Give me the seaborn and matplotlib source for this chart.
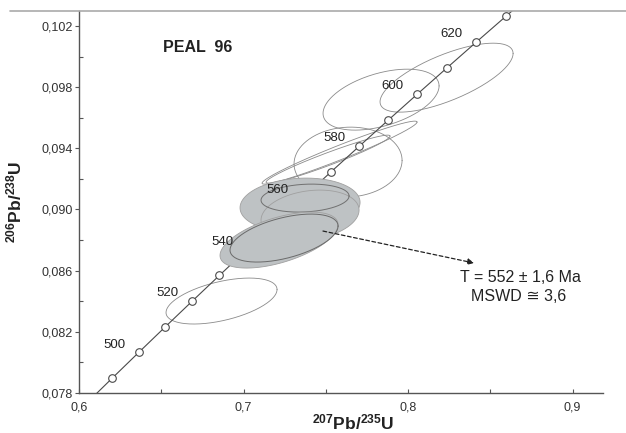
import numpy as np
import seaborn as sns
import matplotlib.pyplot as plt
from matplotlib.lines import Line2D
from matplotlib.ticker import FixedLocator

sns.set_style("ticks")
plt.rcParams['font.family'] = ['Liberation Sans', 'DejaVu Sans']
plt.rcParams['mathtext.fontset'] = 'custom'
plt.rcParams['mathtext.rm'] = 'Liberation Sans'
plt.rcParams['mathtext.bf'] = 'Liberation Sans:bold'

# Concordia (age in Ma, 207Pb/235U, 206Pb/238U)
conc_age = [480, 490, 500, 510, 520, 530, 540, 550, 560, 570, 580, 590, 600, 610, 620, 630, 640]
conc_x = [0.60437, 0.62024, 0.63628, 0.65247, 0.66883, 0.68535, 0.70203, 0.71887, 0.73588,
          0.75306, 0.77042, 0.78794, 0.80563, 0.82350, 0.84155, 0.85978, 0.87819]
conc_y = [0.077304, 0.078976, 0.080650, 0.082328, 0.084008, 0.085691, 0.087376, 0.089064, 0.090755,
          0.092448, 0.094144, 0.095842, 0.097544, 0.099248, 0.100955, 0.102664, 0.104376]
label_ages = [500, 520, 540, 560, 580, 600, 620]

# open error ellipses: centre, half-widths, correlation
open_cx = [0.68663, 0.76353, 0.78359, 0.82340, 0.75836, 0.75137]
open_cy = [0.084013, 0.093098, 0.097183, 0.098621, 0.093719, 0.093294]
open_sx = [0.03374, 0.03283, 0.03526, 0.04043, 0.04711, 0.03769]
open_sy = [0.001503, 0.002288, 0.001993, 0.002255, 0.002059, 0.001569]
open_rho = [0.5, 0.05, 0.45, 0.7, 0.97, 0.96]

# grey (concordant) ellipses, upper group then lower group
upper_cx = [0.73435, 0.74043]
upper_cy = [0.090288, 0.089634]
upper_sx = [0.03647, 0.02979]
upper_sy = [0.001765, 0.001634]
upper_rho = [0.1, 0.2]

lower_cx = [0.72158]
lower_cy = [0.088000]
lower_sx = [0.03587]
lower_sy = [0.001830]
lower_rho = [0.55]

# outlines drawn over the grey ellipses
line_up = (0.73739, 0.090745, 0.02675, 0.000915, 0.15)
line_low = (0.72462, 0.088131, 0.03283, 0.001569, 0.5)

x_ticks = [0.6, 0.7, 0.8, 0.9]
y_ticks = [0.078, 0.082, 0.086, 0.090, 0.094, 0.098, 0.102]


def ellipse(cx, cy, sx, sy, rho, n=240):
    t = np.linspace(0, 2 * np.pi, n)
    ex = cx + sx * np.cos(t)
    ey = cy + sy * (rho * np.cos(t) + np.sqrt(1 - rho ** 2) * np.sin(t))
    return ex, ey


fig = plt.figure(figsize=(6.26, 4.33), dpi=100)
ax = fig.add_axes([0.1262, 0.0924, 0.8371, 0.8822])

for cx, cy, sx, sy, r in zip(open_cx, open_cy, open_sx, open_sy, open_rho):
    ex, ey = ellipse(cx, cy, sx, sy, r)
    ax.plot(ex, ey, color="#8a8a8a", lw=0.6, zorder=1)

sns.lineplot(x=conc_x, y=conc_y, sort=False, estimator=None, color="#4a4a4a", lw=0.8, ax=ax, zorder=2)
mark_x = [x for a, x in zip(conc_age, conc_x) if 490 <= a <= 630]
mark_y = [y for a, y in zip(conc_age, conc_y) if 490 <= a <= 630]
sns.scatterplot(x=mark_x, y=mark_y, s=30, color="white", edgecolor="#4a4a4a", linewidth=0.8, ax=ax, zorder=3)

for cx, cy, sx, sy, r in zip(upper_cx, upper_cy, upper_sx, upper_sy, upper_rho):
    ex, ey = ellipse(cx, cy, sx, sy, r)
    ax.fill(ex, ey, facecolor="#bec2c4", edgecolor="#a0a0a0", lw=0.6, zorder=4)
ex, ey = ellipse(*line_up)
ax.plot(ex, ey, color="#707070", lw=0.7, zorder=4.5)

for cx, cy, sx, sy, r in zip(lower_cx, lower_cy, lower_sx, lower_sy, lower_rho):
    ex, ey = ellipse(cx, cy, sx, sy, r)
    ax.fill(ex, ey, facecolor="#bec2c4", edgecolor="#a0a0a0", lw=0.6, zorder=5)
ex, ey = ellipse(*line_low)
ax.plot(ex, ey, color="#6a6a6a", lw=0.7, zorder=5.5)

for a in label_ages:
    i = conc_age.index(a)
    ax.annotate(str(a), (conc_x[i], conc_y[i]), xytext=(-17.8, 5.5), textcoords="offset points",
                ha="center", va="center", fontsize=9.5, color="#222222", zorder=6)

ax.annotate("", xy=(0.8401, 0.08650), xytext=(0.7483, 0.08859),
            arrowprops=dict(arrowstyle="-|>", linestyle=(0, (3, 2)), color="#222222",
                            lw=0.9, mutation_scale=9, shrinkA=0, shrinkB=0), zorder=6)
ax.text(0.8681, 0.08558, "T = 552 ± 1,6 Ma", ha="center", va="center", fontsize=11.5, color="#222222")
ax.text(0.8669, 0.08434, "MSWD ≅ 3,6", ha="center", va="center", fontsize=11.5, color="#222222")
ax.text(0.6723, 0.10061, "PEAL  96", ha="center", va="center", fontsize=11.5, fontweight="bold", color="#222222")

ax.set_xlim(0.6, 0.9185)
ax.set_ylim(0.078, 0.10298)
ax.xaxis.set_major_locator(FixedLocator(x_ticks))
ax.xaxis.set_minor_locator(FixedLocator([0.65, 0.75, 0.85]))
ax.yaxis.set_major_locator(FixedLocator(y_ticks))
ax.yaxis.set_minor_locator(FixedLocator([0.080, 0.084, 0.088, 0.092, 0.096, 0.100]))
ax.set_xticklabels([f"{v:g}".replace(".", ",") for v in x_ticks])
ax.set_yticklabels([f"{v:.3f}".replace(".", ",") for v in y_ticks])
ax.tick_params(axis="x", which="both", direction="in", length=3, width=0.8, color="#555555",
               labelsize=9, pad=6, labelcolor="#333333")
ax.tick_params(axis="y", which="major", direction="out", length=3, width=0.8, color="#555555",
               labelsize=9, pad=1.5, labelcolor="#333333")
ax.tick_params(axis="y", which="minor", direction="in", length=3, width=0.8, color="#555555")

for side in ["top", "right"]:
    ax.spines[side].set_visible(False)
for side in ["left", "bottom"]:
    ax.spines[side].set_color("#555555")
    ax.spines[side].set_linewidth(1.0)

ax.set_xlabel(r"$\mathbf{^{207}Pb/^{235}U}$", fontsize=12.5, color="#222222")
ax.set_ylabel(r"$\mathbf{^{206}Pb/^{238}U}$", fontsize=12.5, color="#222222")
ax.xaxis.set_label_coords(0.523, -0.05)
ax.yaxis.set_label_coords(-0.105, 0.5)

fig.add_artist(Line2D([10 / 626, 1.0], [1 - 11 / 433, 1 - 11 / 433], color="#aaaaaa", lw=1.2))

fig.savefig("out.png", dpi=100)
